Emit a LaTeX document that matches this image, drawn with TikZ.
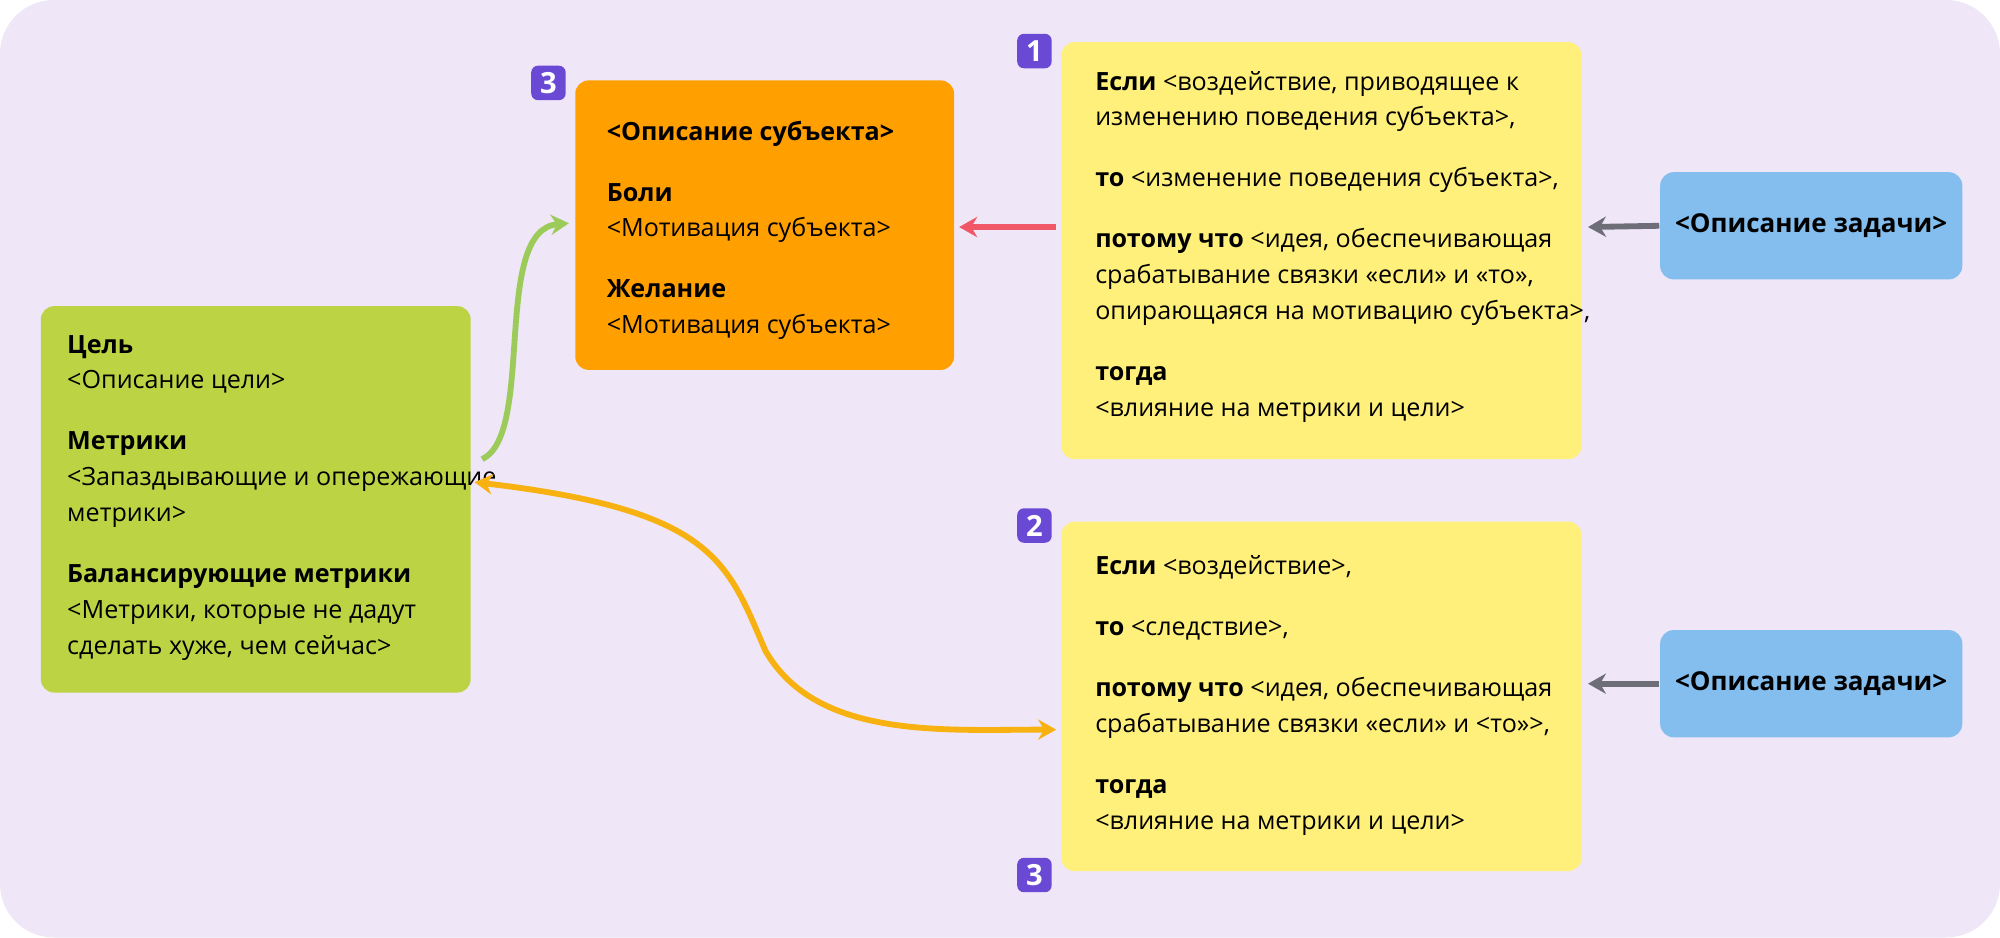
\documentclass[tikz,border=0pt]{standalone}
\usepackage{fontspec}
\setmainfont{Open Sans}
\usetikzlibrary{arrows.meta}

\definecolor{bgcol}{HTML}{EFE6F7}
\definecolor{goalcol}{HTML}{BCD444}
\definecolor{subjcol}{HTML}{FFA000}
\definecolor{hypcol}{HTML}{FFF07C}
\definecolor{taskcol}{HTML}{84BEEE}
\definecolor{badgecol}{HTML}{6A4AD4}
\definecolor{redarr}{HTML}{F05868}
\definecolor{grayarr}{HTML}{6E6E78}
\definecolor{greenarr}{HTML}{9CCB5A}
\definecolor{orangearr}{HTML}{F7B212}

\tikzset{
  card/.style={rounded corners=3pt},
  txt/.style={anchor=north west, inner sep=0pt, align=left,
    font=\fontsize{5.6}{8}\selectfont},
  badge/.style={fill=badgecol, text=white, rounded corners=1.5pt,
    minimum size=0.27cm, inner sep=0pt, font=\fontsize{6.5}{7}\selectfont\bfseries},
  link/.style={line width=1.3pt, -{Stealth[length=4pt,width=4.5pt]}},
}
\newcommand{\pgap}{\\[5.6pt]}

\begin{document}
\begin{tikzpicture}[x=0.01cm, y=-0.01cm]
  \useasboundingbox (0,0) rectangle (1568,735);
  \fill[white] (0,0) rectangle (1568,735);
  \fill[bgcol, rounded corners=12pt] (0,0) rectangle (1568,735);

  % --- boxes ---
  \fill[card, goalcol] (32,240) rectangle (369,543);
  \fill[card, subjcol] (451,63) rectangle (748,290);
  \fill[card, hypcol] (832,33) rectangle (1240,360);
  \fill[card, hypcol] (832,409) rectangle (1240,683);
  \node[card, fill=taskcol, minimum width=2.23cm, minimum height=0.84cm,
    font=\fontsize{5.8}{7}\selectfont\bfseries] (task1) at (1420,177) {<Описание задачи>};
  \node[card, fill=taskcol, minimum width=2.23cm, minimum height=0.84cm,
    font=\fontsize{5.8}{7}\selectfont\bfseries] (task2) at (1420,536) {<Описание задачи>};

  % --- texts ---
  \node[txt] (goal) at (52,262) {\textbf{Цель}\\<Описание цели>\pgap
    \textbf{Метрики}\\<Запаздывающие и опережающие\\метрики>\pgap
    \textbf{Балансирующие метрики}\\<Метрики, которые не дадут\\сделать хуже, чем сейчас>};
  \node[txt] (subj) at (475,94) {\textbf{<Описание субъекта>}\pgap
    \textbf{Боли}\\<Мотивация субъекта>\pgap
    \textbf{Желание}\\<Мотивация субъекта>};
  \node[txt] (hyp1) at (858,55) {\textbf{Если} <воздействие, приводящее к\\изменению поведения субъекта>,\pgap
    \textbf{то} <изменение поведения субъекта>,\pgap
    \textbf{потому что} <идея, обеспечивающая\\срабатывание связки «если» и «то»,\\опирающаяся на мотивацию субъекта>,\pgap
    \textbf{тогда}\\<влияние на метрики и цели>};
  \node[txt] (hyp2) at (858,435) {\textbf{Если} <воздействие>,\pgap
    \textbf{то} <следствие>,\pgap
    \textbf{потому что} <идея, обеспечивающая\\срабатывание связки «если» и <то»>,\pgap
    \textbf{тогда}\\<влияние на метрики и цели>};

  % --- badges ---
  \node[badge] (b3a) at (430,65) {3};
  \node[badge] (b1) at (811,40) {1};
  \node[badge] (b2) at (811,412) {2};
  \node[badge] (b3b) at (811,686) {3};

  % --- arrows ---
  \coordinate (hypL1) at (828,178);
  \coordinate (subjR) at (752,178);
  \coordinate (hypR1) at (1245,178);
  \coordinate (hypR2) at (1245,536);
  \coordinate (hypL2) at (828,572);
  \coordinate (goalR) at (372,378);
  \coordinate (goalT) at (378,360);
  \coordinate (subjL) at (446,175);
  \draw[link, redarr] (hypL1) -- (subjR);
  \draw[link, grayarr] (task1.west) -- (hypR1);
  \draw[link, grayarr] (task2.west) -- (hypR2);
  \draw[link, greenarr] (goalT) .. controls (420,340) and (385,180) .. (subjL);
  \draw[link, orangearr, {Stealth[length=4pt,width=4.5pt]}-{Stealth[length=4pt,width=4.5pt]}]
    (goalR) .. controls (560,400) and (570,440) .. (600,510)
    .. controls (640,580) and (740,572) .. (hypL2);
\end{tikzpicture}
\end{document}
